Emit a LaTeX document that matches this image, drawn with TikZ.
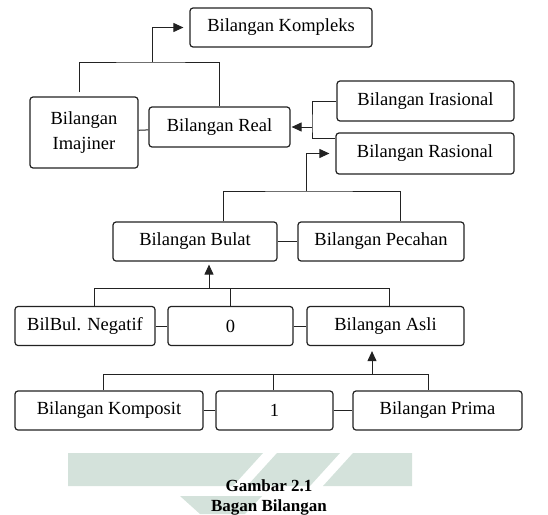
\documentclass[tikz,border=0pt]{standalone}
\usepackage{fontspec}
\setmainfont{Liberation Serif}
\usetikzlibrary{arrows.meta,calc}
\definecolor{ink}{HTML}{222222}
\definecolor{wm}{HTML}{D4E2DB}
\tikzset{
  box/.style={draw=ink,line width=1.2pt,rounded corners=3pt,fill=white,align=center,inner sep=0pt,
    minimum height=39pt,font=\fontsize{18.5}{25}\selectfont},
  ln/.style={draw=ink,line width=1pt},
  ar/.style={ln,-{Triangle[length=10pt,width=9pt]}},
}
\begin{document}
\begin{tikzpicture}[x=1pt,y=-1pt]
  \useasboundingbox (0,0) rectangle (548,514);
  % watermark
  \fill[wm] (68,453) -- (263,453) -- (233,486) -- (68,486) -- cycle;
  \fill[wm] (277,453) -- (340,453) -- (310,486) -- (247,486) -- cycle;
  \fill[wm] (353,453) -- (412,453) -- (412,486) -- (323,486) -- cycle;
  \fill[wm] (180,496) -- (262,496) -- (245,514) -- (200,514) -- cycle;
  % boxes
  \node[box,minimum width=182pt] (kompleks) at (281,27.5) {Bilangan Kompleks};
  \node[box,minimum width=108pt,minimum height=71pt] (imajiner) at (84,132.5) {Bilangan\\Imajiner};
  \node[box,minimum width=141pt,minimum height=40pt] (real) at (219.5,127) {Bilangan Real};
  \node[box,minimum width=177pt,minimum height=40pt] (irasional) at (425.5,101) {Bilangan Irasional};
  \node[box,minimum width=178pt,minimum height=41pt] (rasional) at (425,153.5) {Bilangan Rasional};
  \node[box,minimum width=164pt] (bulat) at (195,241.5) {Bilangan Bulat};
  \node[box,minimum width=166pt] (pecahan) at (381,241.5) {Bilangan Pecahan};
  \node[box,minimum width=140pt] (negatif) at (85,326) {BilBul. Negatif};
  \node[box,minimum width=125pt] (nol) at (230.5,326) {0};
  \node[box,minimum width=157pt] (asli) at (385.5,326) {Bilangan Asli};
  \node[box,minimum width=188pt] (komposit) at (109,410.5) {Bilangan Komposit};
  \node[box,minimum width=117pt] (satu) at (274.5,410.5) {1};
  \node[box,minimum width=169pt] (prima) at (437.5,410.5) {Bilangan Prima};
  \node[align=center,font=\fontsize{17}{20}\selectfont\bfseries] (caption) at (269,497) {Gambar 2.1\\Bagan Bilangan};
  % bus points
  \coordinate (busK) at (152,62);
  \coordinate (busR) at (312,127);
  \coordinate (busQ) at (306,191);
  \coordinate (busZ) at (209,288);
  \coordinate (busP) at (372,374);
  % connectors
  \draw[ln] ([xshift=-5pt,yshift=4pt]imajiner.north) |- (busK) -| (real.north);
  \draw[ar,shorten >=6pt] (busK) |- (kompleks.west);
  \draw[ln] (imajiner) -- (real);
  \draw[ln] (irasional.west) -| (busR) |- ([yshift=15pt]rasional.west);
  \draw[ar,shorten >=1pt] (busR) -- (real.east);
  \draw[ln] ([xshift=28pt]bulat.north) |- (busQ) -| ([xshift=19pt]pecahan.north);
  \draw[ar,shorten >=6pt] (busQ) |- (rasional.west);
  \draw[ln] (bulat) -- (pecahan);
  \draw[ln] ([xshift=9pt]negatif.north) |- ([xshift=4pt]asli.north |- busZ) -- ([xshift=4pt]asli.north);
  \draw[ln] (nol.north) -- (nol.north |- busZ);
  \draw[ar,shorten >=3pt] (busZ) -- (busZ |- bulat.south);
  \draw[ln] (negatif) -- (nol);
  \draw[ln] (nol) -- (asli);
  \draw[ln] ([xshift=-6pt]komposit.north) |- ([xshift=-9.5pt]prima.north |- busP) -- ([xshift=-9.5pt]prima.north);
  \draw[ln] ([xshift=-1.5pt]satu.north) -- ([xshift=-1.5pt]satu.north |- busP);
  \draw[ar,shorten >=5pt] (busP) -- (busP |- asli.south);
  \draw[ln] (komposit) -- (satu);
  \draw[ln] (satu) -- (prima);
\end{tikzpicture}
\end{document}
